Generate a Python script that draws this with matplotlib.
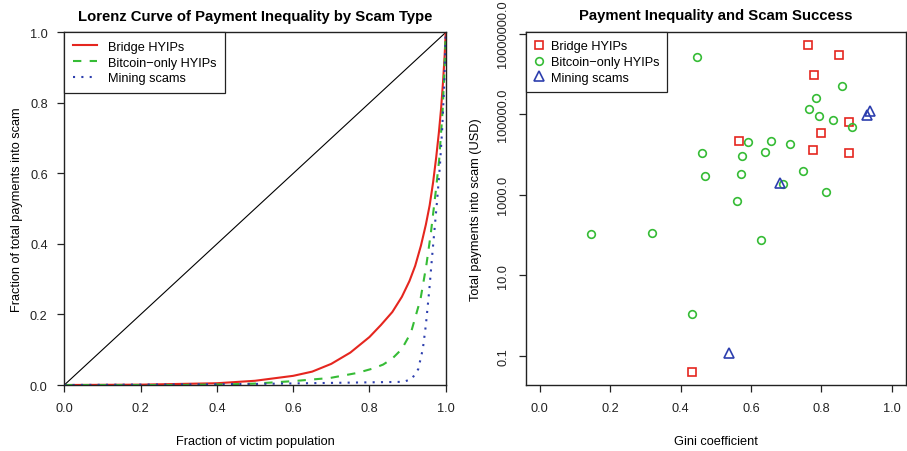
import matplotlib
matplotlib.use('Agg')
import matplotlib.pyplot as plt
from matplotlib.ticker import FixedLocator, FixedFormatter, NullLocator

plt.rcParams['font.family'] = ['Liberation Sans', 'DejaVu Sans']

# ---------------------------------------------------------------------------
# Data
# ---------------------------------------------------------------------------
SERIES = ['Bridge HYIPs', 'Bitcoin\u2212only HYIPs', 'Mining scams']

# Lorenz curves (fraction of victims, fraction of payments)
bridge_lx = [0.0, 0.2, 0.4, 0.5, 0.6, 0.65, 0.7, 0.75, 0.8, 0.83, 0.86, 0.885,
             0.905, 0.92, 0.935, 0.948, 0.958, 0.967, 0.975, 0.982, 0.988,
             0.993, 0.997, 1.0]
bridge_ly = [0.0, 0.001, 0.005, 0.012, 0.026, 0.038, 0.060, 0.092, 0.136, 0.170,
             0.207, 0.250, 0.295, 0.338, 0.395, 0.455, 0.510, 0.575, 0.645,
             0.715, 0.785, 0.860, 0.930, 1.0]

btc_lx = [0.0, 0.3, 0.434, 0.5, 0.6, 0.697, 0.767, 0.81, 0.836, 0.86, 0.885,
          0.909, 0.934, 0.949, 0.961, 0.974, 0.983, 0.992, 0.997, 1.0]
btc_ly = [0.0, 0.0, 0.002, 0.004, 0.011, 0.020, 0.034, 0.047, 0.058, 0.075, 0.102,
          0.149, 0.244, 0.338, 0.430, 0.550, 0.640, 0.780, 0.900, 1.0]

mining_lx = [0.0, 0.5, 0.7, 0.889, 0.911, 0.928, 0.940, 0.948, 0.957, 0.964,
             0.971, 0.978, 0.985, 0.991, 0.996, 1.0]
mining_ly = [0.0, 0.003, 0.006, 0.009, 0.017, 0.045, 0.102, 0.170, 0.270, 0.360,
             0.445, 0.530, 0.625, 0.730, 0.850, 1.0]

# Gini coefficient vs total payments (USD)
bridge_gini = [0.761, 0.851, 0.780, 0.877, 0.800, 0.567, 0.775, 0.879, 0.433]
bridge_usd = [5.2e6, 3.0e6, 9.5e5, 6.3e4, 3.4e4, 2.2e4, 1.26e4, 1.1e4, 0.040]

btc_gini = [0.447, 0.859, 0.783, 0.765, 0.792, 0.833, 0.887, 0.591, 0.658, 0.710,
            0.461, 0.574, 0.639, 0.470, 0.572, 0.747, 0.691, 0.812, 0.560, 0.145,
            0.320, 0.628, 0.433]
btc_usd = [2.57e6, 5.1e5, 2.5e5, 1.32e5, 9.1e4, 7.1e4, 4.8e4, 2.04e4, 2.19e4, 1.78e4,
           1.07e4, 9.4e3, 1.15e4, 2.9e3, 3.2e3, 3.8e3, 1.9e3, 1.2e3, 720, 105,
           110, 74, 1.12]

mining_gini = [0.938, 0.930, 0.683, 0.538]
mining_usd = [1.23e5, 9.8e4, 1.95e3, 0.121]

x_ticks = [0.0, 0.2, 0.4, 0.6, 0.8, 1.0]
x_tick_labels = ['0.0', '0.2', '0.4', '0.6', '0.8', '1.0']
usd_ticks = [0.1, 10.0, 1000.0, 100000.0, 10000000.0]
usd_tick_labels = ['0.1', '10.0', '1000.0', '100000.0', '10000000.0']

RED = '#E5261F'
GREEN = '#36BC36'
BLUE = '#2D3FAE'
INK = '#222222'

# ---------------------------------------------------------------------------
# Figure
# ---------------------------------------------------------------------------
fig = plt.figure(figsize=(9.07, 4.52), dpi=100)
ax1 = fig.add_axes([0.0709, 0.146, 0.4205, 0.780])
ax2 = fig.add_axes([0.5796, 0.146, 0.4193, 0.781])

LABEL_FS = 9.2
TITLE_FS = 10.7

def style_axes(ax):
    for sp in ax.spines.values():
        sp.set_color(INK)
        sp.set_linewidth(1.0)
    ax.tick_params(direction='out', length=5, width=0.9, colors=INK,
                   labelsize=LABEL_FS, pad=7)

def add_legend(ax, **kw):
    leg = ax.legend(loc='upper left', fontsize=LABEL_FS, fancybox=False,
                    framealpha=1, edgecolor=INK, borderaxespad=0,
                    labelspacing=0.3, borderpad=0.65, **kw)
    leg.get_frame().set_linewidth(0.9)
    return leg

# Left panel: Lorenz curves
ax1.plot([0, 1], [0, 1], color='black', lw=0.8)
ax1.plot(bridge_lx, bridge_ly, color=RED, lw=1.5, label=SERIES[0])
ax1.plot(btc_lx, btc_ly, color=GREEN, lw=1.5, linestyle=(0, (4, 4)), label=SERIES[1])
ax1.plot(mining_lx, mining_ly, color=BLUE, lw=1.5, linestyle=(0, (1, 3)), label=SERIES[2])
ax1.set_xlim(0, 1)
ax1.set_ylim(0, 1)
ax1.set_xticks(x_ticks, x_tick_labels)
ax1.set_yticks(x_ticks, x_tick_labels)
style_axes(ax1)
ax1.set_title('Lorenz Curve of Payment Inequality by Scam Type', fontsize=TITLE_FS,
              fontweight='bold', pad=9)
ax1.set_xlabel('Fraction of victim population', fontsize=LABEL_FS, labelpad=15)
ax1.set_ylabel('Fraction of total payments into scam', fontsize=LABEL_FS, labelpad=5)
add_legend(ax1, handlelength=1.9, handletextpad=0.9)

# Right panel: Gini vs total payments
ax2.plot(bridge_gini, bridge_usd, linestyle='none', marker='s', ms=5.5,
         mfc='none', mec=RED, mew=1.2, label=SERIES[0])
ax2.plot(btc_gini, btc_usd, linestyle='none', marker='o', ms=5.5,
         mfc='none', mec=GREEN, mew=1.2, label=SERIES[1])
ax2.plot(mining_gini, mining_usd, linestyle='none', marker='^', ms=6.5,
         mfc='none', mec=BLUE, mew=1.2, label=SERIES[2])
ax2.set_yscale('log')
ax2.set_xlim(-0.04, 1.04)
ax2.set_ylim(10 ** -1.72, 10 ** 7.04)
ax2.set_xticks(x_ticks, x_tick_labels)
ax2.yaxis.set_major_locator(FixedLocator(usd_ticks))
ax2.yaxis.set_major_formatter(FixedFormatter(usd_tick_labels))
ax2.yaxis.set_minor_locator(NullLocator())
style_axes(ax2)
for lab in ax2.get_yticklabels():
    lab.set_rotation(90)
    lab.set_va('center')
ax2.set_title('Payment Inequality and Scam Success', fontsize=TITLE_FS,
              fontweight='bold', pad=9)
ax2.set_xlabel('Gini coefficient', fontsize=LABEL_FS, labelpad=15)
ax2.set_ylabel('Total payments into scam (USD)', fontsize=LABEL_FS, labelpad=11)
add_legend(ax2, handlelength=0.8, handletextpad=0.5)

fig.savefig('out.png', dpi=100)
